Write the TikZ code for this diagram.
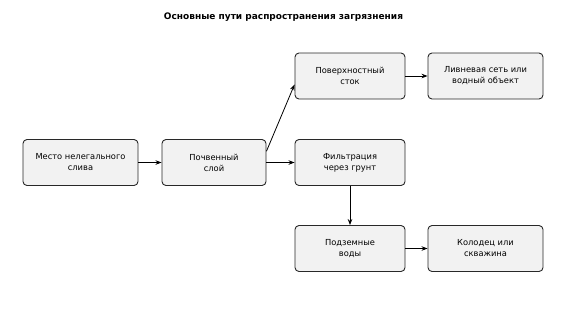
\documentclass[tikz,border=0pt]{standalone}
\usepackage{fontspec}
\setmainfont{DejaVu Sans}
\usetikzlibrary{arrows.meta, positioning, calc}
\definecolor{boxfill}{RGB}{242, 242, 242}
\definecolor{boxline}{RGB}{40, 40, 40}

\begin{document}
\begin{tikzpicture}[x=1pt, y=-1pt,
  bx/.style={draw=boxline, fill=boxfill, rounded corners=4pt, line width=0.9pt, align=center, font=\fontsize{8.3}{11}\selectfont, minimum height=46pt, inner sep=2pt},
  arr/.style={-{Stealth[length=6pt, width=4.5pt]}, line width=0.8pt}
]
  \useasboundingbox (0, 0) rectangle (567, 325);

  % Title
  \node[font=\fontsize{9}{11}\bfseries\selectfont] (title) at (283.5, 17) {Основные пути распространения загрязнения};

  % Source and soil
  \node[bx, minimum width=115pt] (spill) at (80.5, 162.5) {Место нелегального\\слива};
  \node[bx, minimum width=104pt] (soil) at (214, 162.5) {Почвенный\\слой};

  % Surface branch
  \node[bx, minimum width=110pt] (runoff) at (350, 76) {Поверхностный\\сток};
  \node[bx, minimum width=115pt] (storm) at (485.5, 76) {Ливневая сеть или\\водный объект};

  % Ground branch
  \node[bx, minimum width=110pt] (filter) at (350, 162.5) {Фильтрация\\через грунт};
  \node[bx, minimum width=110pt] (ground) at (350, 248.5) {Подземные\\воды};
  \node[bx, minimum width=115pt] (well) at (485.5, 248.5) {Колодец или\\скважина};

  \draw[arr] (spill) -- (soil);
  \draw[arr] ($(soil.north east)!0.26!(soil.south east)$) -- ($(runoff.north west)!0.68!(runoff.south west)$);
  \draw[arr] (soil) -- (filter);
  \draw[arr] (runoff) -- (storm);
  \draw[arr] (filter) -- (ground);
  \draw[arr] (ground) -- (well);
\end{tikzpicture}
\end{document}
